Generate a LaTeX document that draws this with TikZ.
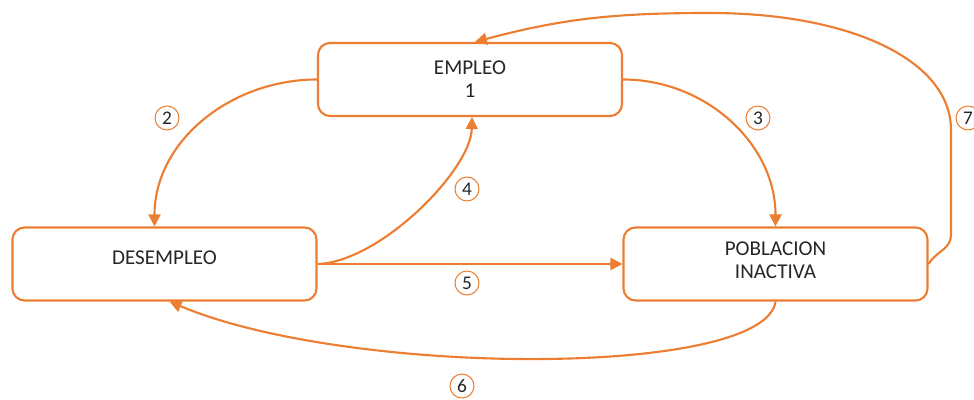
\documentclass[tikz,border=0pt]{standalone}
\usepackage{fontspec}
\setmainfont{Carlito}
\usetikzlibrary{arrows.meta,calc}
\definecolor{naranja}{HTML}{ED7D31}
\definecolor{texto}{HTML}{262626}
\tikzset {
  >={Triangle[length=2.4mm,width=2.4mm]},
  every node/.style={font=\fontsize{12}{13}\selectfont,text=texto},
  estado/.style={draw=naranja,line width=1.2pt,rounded corners=2.4mm,
    minimum width=6.08cm,minimum height=1.46cm,align=center},
  flujo/.style={->,draw=naranja,line width=1.2pt},
  paso/.style={circle,draw=naranja,line width=0.6pt,minimum size=4.8mm,
    inner sep=0pt,font=\fontsize{11}{12}\selectfont},
}

\begin{document}
\begin{tikzpicture}
          \useasboundingbox (0,0) rectangle (19.48,8);
          \node[estado] (emp) at (9.4,6.41) {EMPLEO\\1};
          \node[estado] (des) at (3.29,2.72) {DESEMPLEO\\[-2mm]};
          \node[estado] (pob) at (15.51,2.72) {POBLACION\\INACTIVA\\[-3mm]};
          \coordinate (c7a) at (19.02,3.3);
          \coordinate (c7b) at (19.02,5.4);
          \coordinate (t7) at (14.2,7.74);
          \draw[flujo] (emp.west) to[out=180,in=90] ([xshift=-2mm]des.north);
          \draw[flujo] (emp.east) to[out=0,in=90] (pob.north);
          \draw[flujo] (des.east) .. controls (7.6,2.76) and (9.42,4.6) .. ([xshift=0.4mm]emp.south);
          \draw[flujo] (des.east) -- (pob.west);
          \draw[flujo] (pob.south) .. controls (15.3,0.45) and (7,0.45) .. ([xshift=1mm]des.south);
          \draw[flujo] (pob.east) to[out=60,in=-90] (c7a) -- (c7b)
            .. controls (19.02,6.8) and (17.0,7.74) .. (t7)
            to[out=180,in=15] ([xshift=1mm]emp.north);
          \node[paso] (n2) at (3.34,5.64) {2};
          \node[paso] (n3) at (15.16,5.64) {3};
          \node[paso] (n4) at (9.34,4.22) {4};
          \node[paso] (n5) at (9.34,2.34) {5};
          \node[paso] (n6) at (9.24,0.28) {6};
          \node[paso] (n7) at (19.36,5.64) {7};
        \end{tikzpicture}
\end{document}
